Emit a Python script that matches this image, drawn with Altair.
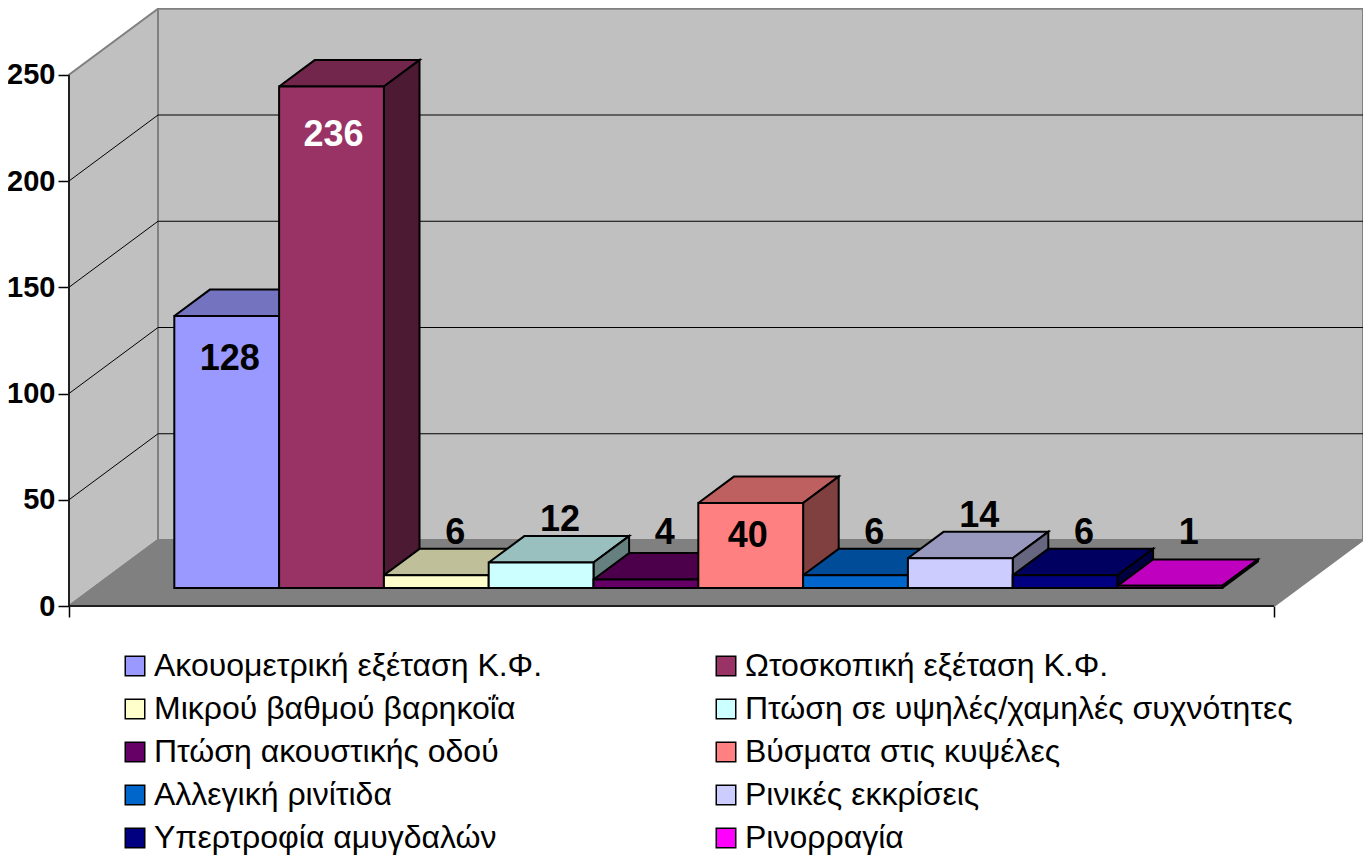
import altair as alt
import pandas as pd

categories = [
    "Ακουομετρική εξέταση Κ.Φ.", "Ωτοσκοπική εξέταση Κ.Φ.",
    "Μικρού βαθμού βαρηκοΐα", "Πτώση σε υψηλές/χαμηλές συχνότητες",
    "Πτώση ακουστικής οδού", "Βύσματα στις κυψέλες",
    "Αλλεγική ρινίτιδα", "Ρινικές εκκρίσεις",
    "Υπερτροφία αμυγδαλών", "Ρινορραγία",
]
values = [128, 236, 6, 12, 4, 40, 6, 14, 6, 1]
palette = ["#9999FF", "#993366", "#FFFFCC", "#CCFFFF", "#660066",
           "#FF8080", "#0066CC", "#CCCCFF", "#000080", "#FF00FF"]
y_ticks = [0, 50, 100, 150, 200, 250]
inside_labels = {128: (43, 3), 236: (49, 2), 40: (33, -3)}
label_white = [236]

# 3-D frame: one x unit is one bar, y is in chart values.
PX_X, PX_Y = 104.8, 2.125
DEPTH_X, DEPTH_Y = 89 / PX_X, 66 / PX_Y
BAR_D0, BAR_D1 = 0.273, 0.673
GAP = 0.773
FLOOR_W = 1205 / PX_X
W, H = 1294, 598
X_MAX, Y_MAX = W / PX_X, H / PX_Y


def proj(x, v, d):
    return x + d * DEPTH_X, v + d * DEPTH_Y


def shade(col, k):
    r, g, b = (int(col[i:i + 2], 16) for i in (1, 3, 5))
    return "#%02X%02X%02X" % (round(r * k), round(g * k), round(b * k))


def polygons(items):
    rows = []
    for pid, (fill, pts) in enumerate(items):
        for s, (x, y) in enumerate(pts):
            rows.append(dict(poly=pid, seq=s, x=x, y=y, fill=fill))
    return pd.DataFrame(rows)


xs = alt.Scale(domain=[0, X_MAX], nice=False, zero=False)
ys = alt.Scale(domain=[0, Y_MAX], nice=False, zero=False)
X = alt.X("x:Q", scale=xs, axis=alt.Axis(
    values=[0, FLOOR_W], labels=False, domain=False, grid=False, title=None,
    tickSize=11, tickColor="#000000", tickWidth=1.5))
Y = alt.Y("y:Q", scale=ys, axis=alt.Axis(
    values=y_ticks, domain=False, grid=False, title=None,
    tickSize=11, tickColor="#000000", tickWidth=1.5, labelPadding=3,
    labelFont="Liberation Sans", labelFontSize=29, labelFontWeight="bold", labelColor="#000000"))


def poly_layer(items, stroke, width):
    return alt.Chart(polygons(items)).mark_line(
        stroke=stroke, strokeWidth=width, strokeJoin="miter", clip=False
    ).encode(
        x=X, y=Y,
        detail="poly:N",
        order="seq:Q",
        fill=alt.Fill("fill:N", scale=None),
    )


# walls and floor
walls = [
    ("#C0C0C0", [proj(0, 0, 1), proj(FLOOR_W, 0, 1), proj(FLOOR_W, 250, 1), proj(0, 250, 1), proj(0, 0, 1)]),
    ("#C0C0C0", [proj(0, 0, 0), proj(0, 0, 1), proj(0, 250, 1), proj(0, 250, 0), proj(0, 0, 0)]),
    ("#808080", [proj(0, 0, 0), proj(FLOOR_W, 0, 0), proj(FLOOR_W, 0, 1), proj(0, 0, 1), proj(0, 0, 0)]),
]
wall_layer = poly_layer(walls, "#808080", 2)

# gridlines and the black edges
grid_rows = []
for i, t in enumerate(y_ticks[1:-1]):
    for s, (x, y) in enumerate([proj(0, t, 0), proj(0, t, 1), proj(FLOOR_W, t, 1)]):
        grid_rows.append(dict(g=i, seq=s, x=x, y=y))
grid_layer = alt.Chart(pd.DataFrame(grid_rows)).mark_line(stroke="#000000", strokeWidth=1).encode(
    x=X, y=Y, detail="g:N", order="seq:Q")

edge_rows = [dict(x=x, y=y, seq=s) for s, (x, y) in enumerate(
    [proj(0, 250, 0), proj(0, 0, 0), proj(FLOOR_W, 0, 0)])]
edge_layer = alt.Chart(pd.DataFrame(edge_rows)).mark_line(stroke="#000000", strokeWidth=1.5, clip=False).encode(
    x=X, y=Y, order="seq:Q")

# bar tops and sides, painted left to right
faces = []
fronts = []
for i, (c, v, col) in enumerate(zip(categories, values, palette)):
    x0, x1 = GAP + i, GAP + i + 1
    faces.append((shade(col, 0.75), [proj(x0, v, BAR_D0), proj(x1, v, BAR_D0), proj(x1, v, BAR_D1),
                                     proj(x0, v, BAR_D1), proj(x0, v, BAR_D0)]))
    faces.append((shade(col, 0.5), [proj(x1, 0, BAR_D0), proj(x1, v, BAR_D0), proj(x1, v, BAR_D1),
                                    proj(x1, 0, BAR_D1), proj(x1, 0, BAR_D0)]))
    fx0, fy0 = proj(x0, 0, BAR_D0)
    fx1, fy1 = proj(x1, v, BAR_D0)
    fronts.append(dict(cat=c, x=fx0, x2=fx1, y=fy0, y2=fy1))
face_layer = poly_layer(faces, "#000000", 2)

front_layer = alt.Chart(pd.DataFrame(fronts)).mark_rect(stroke="#000000", strokeWidth=2).encode(
    x=X, x2="x2:Q", y=Y, y2="y2:Q",
    color=alt.Color(
        "cat:N",
        scale=alt.Scale(domain=categories, range=palette),
        sort=categories,
        legend=alt.Legend(
            title=None, orient="none", legendX=50, legendY=642, columns=2, direction="horizontal",
            symbolType="square", symbolSize=380, symbolStrokeColor="#000000",
            symbolStrokeWidth=1.5, symbolOpacity=1,
            labelFont="Liberation Sans", labelFontSize=32, labelColor="#000000",
            labelOffset=3, labelLimit=700, rowPadding=11, columnPadding=167,
        ),
    ),
)

# value labels
label_rows = []
for i, v in enumerate(values):
    cx = GAP + i + 0.5
    if v in inside_labels:
        drop, shift = inside_labels[v]
        lx, ly = proj(cx + shift / PX_X, v - drop / PX_Y, BAR_D0)
    else:
        lx, ly = proj(cx + 0.18, max(v, 6) + 42 / PX_Y, BAR_D0)
    label_rows.append(dict(x=lx, y=ly, t=str(v), col="#FFFFFF" if v in label_white else "#000000"))
label_layer = alt.Chart(pd.DataFrame(label_rows)).mark_text(
    font="Liberation Sans", fontWeight="bold", fontSize=36, align="center", baseline="middle"
).encode(x=X, y=Y, text="t:N", color=alt.Color("col:N", scale=None))

chart = alt.layer(
    wall_layer, grid_layer, edge_layer, face_layer, front_layer, label_layer
).properties(
    width=W, height=H,
    padding={"left": 61, "top": 0, "right": 0, "bottom": 250},
    autosize=alt.AutoSizeParams(type="none"),
    background="#FFFFFF",
).configure_view(stroke=None)

chart.save("out.html", embed_options={"renderer": "svg", "actions": False})
